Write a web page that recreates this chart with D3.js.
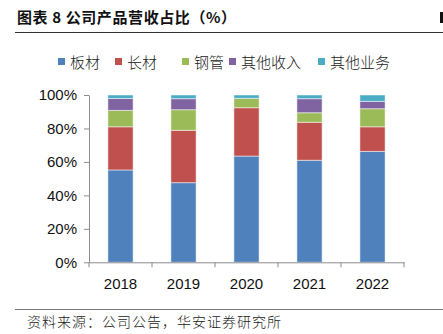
<!DOCTYPE html>
<html>
<head>
<meta charset="utf-8">
<script src="https://cdn.jsdelivr.net/npm/d3@7"></script>
<style>
  body { margin: 0; background: #fff; }
  svg { display: block; }
</style>
</head>
<body>
<div id="chart"></div>
<script>
// data (percent of revenue)
const years = ["2018", "2019", "2020", "2021", "2022"];
const seriesNames = ["板材", "长材", "钢管", "其他收入", "其他业务"];
const banCai = [55.2, 25.8, 9.8, 7.1, 2.1];
const changCai = [47.6, 31.3, 12.3, 6.6, 2.2];
const gangGuan = [63.5, 28.9, 5.6, 0, 2.0];
const qitaShouru = [61.0, 22.7, 5.7, 8.4, 2.2];
const qitaYewu = [66.3, 14.7, 10.8, 4.4, 3.8];
const yTicks = [0, 20, 40, 60, 80, 100];
const colors = ["#4F81BD", "#C0504D", "#9BBB59", "#8064A2", "#4BACC6"];

// rows per year, columns per series
const byYear = [banCai, changCai, gangGuan, qitaShouru, qitaYewu];
const table = years.map((y, i) => {
  const row = { year: y };
  seriesNames.forEach((s, j) => row[s] = byYear[i][j]);
  return row;
});

const width = 443, height = 334;
const margin = { top: 95, right: 39, bottom: 72, left: 89 };

const svg = d3.select("#chart").append("svg")
  .attr("width", width)
  .attr("height", height);

// header
svg.append("text")
  .attr("x", 17).attr("y", 23)
  .style("font-family", "'Noto Sans CJK SC', sans-serif")
  .style("font-size", "15px")
  .style("font-weight", "bold")
  .style("letter-spacing", "0.6px")
  .style("fill", "#111")
  .text("图表 8 公司产品营收占比（%）");
svg.append("line")
  .attr("x1", 15).attr("x2", 443).attr("y1", 32.5).attr("y2", 32.5)
  .attr("stroke", "#333").attr("stroke-width", 1);
svg.append("rect")
  .attr("x", 440).attr("y", 12).attr("width", 3).attr("height", 11)
  .attr("fill", "#111");

const x = d3.scaleBand()
  .domain(years)
  .range([margin.left, width - margin.right])
  .paddingInner(0.6)
  .paddingOuter(0.3);

const y = d3.scaleLinear()
  .domain([0, 100])
  .range([height - margin.bottom + 0.3, margin.top]);

const stacked = d3.stack().keys(seriesNames)(table);

svg.append("g")
  .selectAll("g")
  .data(stacked)
  .join("g")
  .attr("fill", (d, i) => colors[i])
  .selectAll("rect")
  .data(d => d)
  .join("rect")
  .attr("x", d => x(d.data.year))
  .attr("width", x.bandwidth())
  .attr("y", d => y(d[1]))
  .attr("height", d => y(d[0]) - y(d[1]))
  .attr("stroke", "rgba(255,255,255,0.5)")
  .attr("stroke-width", 1);

// axes
const xAxisScale = d3.scalePoint().domain(d3.range(years.length + 1))
  .range([margin.left, width - margin.right]);

const yAxis = svg.append("g")
  .attr("transform", `translate(${margin.left},0)`)
  .call(d3.axisLeft(y).tickValues(yTicks).tickFormat(d => d + "%").tickSize(5).tickSizeOuter(0));

const xAxis = svg.append("g")
  .attr("transform", `translate(0,${y(0)})`)
  .call(d3.axisBottom(x).tickSize(0).tickSizeOuter(0));

// tick marks between categories
xAxis.selectAll(".sep")
  .data(xAxisScale.domain())
  .join("line")
  .attr("class", "sep")
  .attr("x1", d => xAxisScale(d)).attr("x2", d => xAxisScale(d))
  .attr("y1", 0).attr("y2", 5)
  .attr("stroke", "#8c8c8c");

[xAxis, yAxis].forEach(g => {
  g.select(".domain").attr("stroke", "#8c8c8c");
  g.selectAll(".tick line").attr("stroke", "#8c8c8c");
  g.selectAll("text")
    .style("font-family", "'Liberation Sans', Arial, sans-serif")
    .style("font-size", "15px")
    .style("fill", "#111");
});
yAxis.selectAll("text").attr("x", -12);
xAxis.selectAll("text").attr("dy", "1.6em");

// legend
const legendX = [58, 115, 182, 229, 318];
const legend = svg.append("g")
  .selectAll("g")
  .data(seriesNames)
  .join("g")
  .attr("transform", (d, i) => `translate(${legendX[i]},62)`);
legend.append("rect")
  .attr("x", 0).attr("y", -4)
  .attr("width", 7).attr("height", 7)
  .attr("fill", (d, i) => colors[i]);
legend.append("text")
  .attr("x", 12).attr("y", 5.5)
  .style("font-family", "'Noto Sans CJK SC', sans-serif")
  .style("font-size", "15px")
  .style("font-weight", 300)
  .style("fill", "#222")
  .text(d => d);

// footer
svg.append("line")
  .attr("x1", 15).attr("x2", 443).attr("y1", 309.5).attr("y2", 309.5)
  .attr("stroke", "#777").attr("stroke-width", 1);
svg.append("text")
  .attr("x", 27).attr("y", 327)
  .style("font-family", "'Noto Sans CJK SC', sans-serif")
  .style("font-size", "14px")
  .style("font-weight", 300)
  .style("letter-spacing", "1px")
  .style("fill", "#222")
  .text("资料来源：公司公告，华安证券研究所");
</script>
</body>
</html>
